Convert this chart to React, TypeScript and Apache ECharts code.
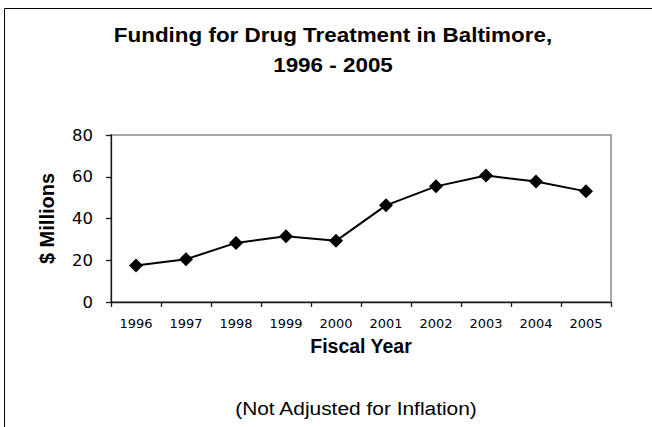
import React, { useEffect, useRef } from "react";
import * as echarts from "echarts";

const years = ["1996", "1997", "1998", "1999", "2000", "2001", "2002", "2003", "2004", "2005"];
const fundingMillions = [17.5, 20.5, 28.3, 31.5, 29.3, 46.3, 55.4, 60.6, 57.7, 53];
const yTicks = { min: 0, max: 80, interval: 20 };

const chartTitle = "Funding for Drug Treatment in Baltimore,\n1996 - 2005";
const xAxisTitle = "Fiscal Year";
const yAxisTitle = "$ Millions";
const footnote = "(Not Adjusted for Inflation)";

const SANS = "Arial, 'Liberation Sans', Helvetica, sans-serif";
const DIGITS = "'DejaVu Sans', Verdana, sans-serif";

export default function App() {
  const ref = useRef<HTMLDivElement>(null);

  useEffect(() => {
    document.body.style.margin = "0";
    if (!ref.current) return;
    const chart = echarts.init(ref.current, null, { renderer: "svg" });
    chart.setOption({
      animation: false,
      backgroundColor: "#ffffff",
      graphic: [
        // outer chart-area frame
        {
          type: "rect",
          shape: { x: 4.5, y: 8.5, width: 700, height: 500 },
          style: { fill: "none", stroke: "#000", lineWidth: 1 },
          silent: true,
        },
        // two-line chart title, slightly widened lettering
        {
          type: "text",
          x: 333,
          y: 20,
          scaleX: 1.15,
          style: {
            text: chartTitle,
            font: `bold 19.5px ${SANS}`,
            lineHeight: 30,
            fill: "#000",
            textAlign: "center",
            textVerticalAlign: "top",
          },
        },
        {
          type: "text",
          x: 356,
          y: 408,
          scaleX: 1.1,
          style: {
            text: footnote,
            font: `19px ${SANS}`,
            fill: "#000",
            textAlign: "center",
            textVerticalAlign: "middle",
          },
        },
      ],
      grid: {
        left: 111,
        right: 41,
        top: 135,
        bottom: 125,
        show: true,
        borderColor: "#8a8a8a",
        borderWidth: 1.5,
        backgroundColor: "transparent",
      },
      xAxis: {
        type: "category",
        data: years,
        boundaryGap: true,
        name: xAxisTitle,
        nameLocation: "middle",
        nameGap: 34,
        nameTextStyle: { fontFamily: SANS, fontWeight: "bold", fontSize: 19.5, color: "#000" },
        axisLine: { lineStyle: { color: "#1a1a1a", width: 1.3 } },
        axisTick: { show: true, length: 5, lineStyle: { color: "#1a1a1a", width: 1.3 } },
        axisLabel: { fontFamily: DIGITS, fontSize: 13, color: "#000", margin: 15, interval: 0 },
        splitLine: { show: false },
      },
      yAxis: {
        type: "value",
        min: yTicks.min,
        max: yTicks.max,
        interval: yTicks.interval,
        name: yAxisTitle,
        nameLocation: "middle",
        nameRotate: 90,
        nameGap: 54,
        nameTextStyle: { fontFamily: SANS, fontWeight: "bold", fontSize: 20, color: "#000" },
        axisLine: { show: true, lineStyle: { color: "#1a1a1a", width: 1.3 } },
        axisTick: { show: true, length: 5, lineStyle: { color: "#1a1a1a", width: 1.3 } },
        axisLabel: { fontFamily: DIGITS, fontSize: 16.5, color: "#000", margin: 18 },
        splitLine: { show: false },
      },
      series: [
        {
          type: "line",
          data: fundingMillions,
          symbol: "diamond",
          symbolSize: 14,
          lineStyle: { color: "#000", width: 2 },
          itemStyle: { color: "#000" },
        },
      ],
    });
    return () => chart.dispose();
  }, []);

  return <div ref={ref} style={{ width: 652, height: 427 }} />;
}
